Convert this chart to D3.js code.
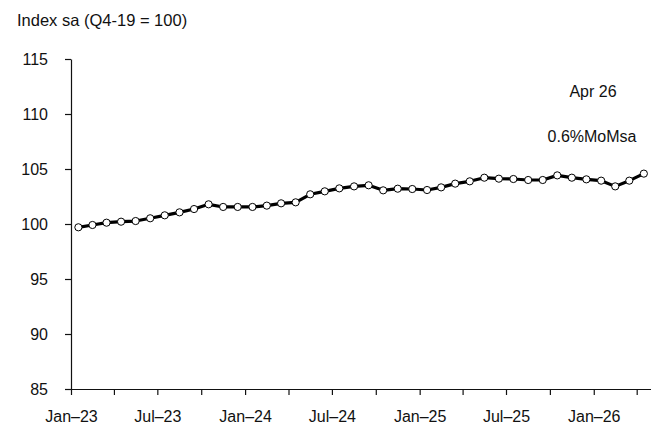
<!DOCTYPE html>
<html>
<head>
<meta charset="utf-8">
<script src="https://cdn.jsdelivr.net/npm/d3@7"></script>
<style>
  body { margin: 0; background: #fff; }
  text { font-family: "Liberation Sans", Arial, Helvetica, sans-serif; fill: #111; }
</style>
</head>
<body>
<div id="chart"></div>
<script>
const WIDTH = 658;
const HEIGHT = 429;

// monthly index, Jan-23 .. Apr-26
const months = d3.range(40).map(i => new Date(2023, i, 1));
const values = [
  99.70, 99.91, 100.12, 100.21, 100.27, 100.52, 100.79, 101.06, 101.36, 101.79, 101.55, 101.55,
  101.55, 101.67, 101.88, 101.97, 102.70, 102.97, 103.24, 103.42, 103.52, 103.06, 103.21, 103.18,
  103.09, 103.33, 103.67, 103.88, 104.21, 104.12, 104.09, 104.00, 104.00, 104.42, 104.21, 104.06,
  103.94, 103.42, 103.94, 104.58
];
const yTicks = [85, 90, 95, 100, 105, 110, 115];
const fmtMonth = d3.timeFormat("%b–%y");

const margin = { left: 71, right: 7, top: 59, bottom: 40 };
const x0 = margin.left, x1 = WIDTH - margin.right;

const svg = d3.select("#chart").append("svg")
  .attr("width", WIDTH)
  .attr("height", HEIGHT);

// band positions: ticks at month boundaries, points at mid-month
const x = d3.scaleTime()
  .domain([months[0], new Date(2026, 4, 1)])
  .range([x0, x1]);
const mid = i => (x(months[i]) + x(d3.timeMonth.offset(months[i], 1))) / 2;

const y = d3.scaleLinear()
  .domain([85, 115])
  .range([389, 59]);

// y axis
const yAxis = svg.append("g")
  .attr("transform", `translate(${x0},0)`)
  .call(d3.axisLeft(y).tickValues(yTicks).tickSize(6).tickPadding(17).tickSizeOuter(0));
yAxis.selectAll("text").style("font-size", "16px");

// x axis - ticks every quarter, labels every 6 months
const xTicks = d3.range(0, 40, 3).map(i => months[i]);
const xAxis = svg.append("g")
  .attr("transform", `translate(0,${y(85)})`)
  .call(d3.axisBottom(x).tickValues(xTicks).tickSize(6).tickPadding(16).tickSizeOuter(0)
    .tickFormat(d => d.getMonth() % 6 === 0 ? fmtMonth(d) : ""));
xAxis.selectAll("text").style("font-size", "16px");
xAxis.select(".domain").attr("d", `M${x0 - 6},0.5H${x1}`);

svg.selectAll(".domain, .tick line").attr("stroke", "#111").attr("stroke-width", 1.2);

// title
svg.append("text")
  .attr("x", 17).attr("y", 26)
  .style("font-size", "16.5px")
  .text("Index sa (Q4-19 = 100)");

// line
const line = d3.line()
  .x((d, i) => mid(i))
  .y(d => y(d));

svg.append("path")
  .datum(values)
  .attr("fill", "none")
  .attr("stroke", "#000")
  .attr("stroke-width", 3.2)
  .attr("stroke-linejoin", "round")
  .attr("d", line);

svg.selectAll(".pt")
  .data(values)
  .enter()
  .append("circle")
  .attr("class", "pt")
  .attr("cx", (d, i) => mid(i))
  .attr("cy", d => y(d))
  .attr("r", 3.6)
  .attr("fill", "#fff")
  .attr("stroke", "#000")
  .attr("stroke-width", 1);

// annotation
svg.append("text")
  .attr("x", 593).attr("y", 97)
  .attr("text-anchor", "middle")
  .style("font-size", "16px")
  .text("Apr 26");
svg.append("text")
  .attr("x", 592).attr("y", 142)
  .attr("text-anchor", "middle")
  .style("font-size", "16px")
  .text("0.6%MoMsa");
</script>
</body>
</html>
